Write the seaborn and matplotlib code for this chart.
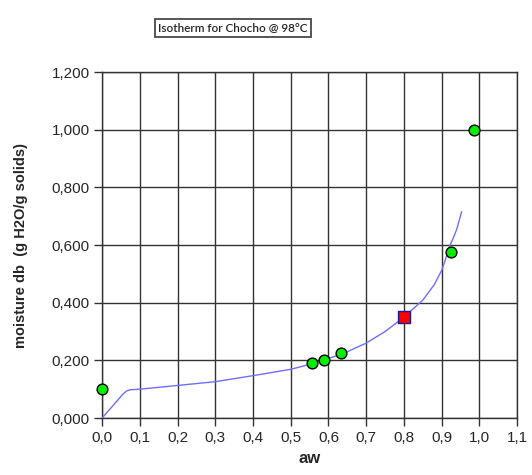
import matplotlib
matplotlib.use("Agg")
import matplotlib.pyplot as plt
import seaborn as sns
import pandas as pd
from matplotlib.ticker import FuncFormatter, MultipleLocator

sns.set_style("white")
plt.rcParams['font.family'] = ['Liberation Sans', 'DejaVu Sans']

# Experimental points
exp_aw = [0.0, 0.555, 0.588, 0.632, 0.925, 0.985]
exp_m = [0.100, 0.190, 0.202, 0.224, 0.575, 1.000]
# Highlighted point
hl_aw = [0.80]
hl_m = [0.350]
# Model curve
curve_aw = [0.0, 0.02, 0.04, 0.055, 0.065, 0.075, 0.1, 0.2, 0.3, 0.4, 0.5, 0.55, 0.6, 0.65,
            0.7, 0.75, 0.8, 0.85, 0.88, 0.9, 0.91, 0.922, 0.93, 0.94, 0.953]
curve_m = [0.0, 0.030, 0.060, 0.083, 0.094, 0.098, 0.100, 0.113, 0.126, 0.147, 0.169, 0.186,
           0.206, 0.230, 0.260, 0.300, 0.350, 0.409, 0.462, 0.512, 0.550, 0.600, 0.622,
           0.655, 0.716]

df_exp = pd.DataFrame({"aw": exp_aw, "m": exp_m})
df_hl = pd.DataFrame({"aw": hl_aw, "m": hl_m})
df_curve = pd.DataFrame({"aw": curve_aw, "m": curve_m})

fig = plt.figure(figsize=(5.32, 4.75), dpi=100)
ax = fig.add_axes([0.192, 0.12, 0.780, 0.728])

sns.lineplot(data=df_curve, x="aw", y="m", ax=ax, color="#6f6fff", linewidth=1.0, sort=False, zorder=3)
sns.scatterplot(data=df_exp, x="aw", y="m", ax=ax, color="#00ee00", edgecolor="black",
                linewidth=1.0, s=60, zorder=5, clip_on=False)
sns.scatterplot(data=df_hl, x="aw", y="m", ax=ax, color="#ff0000", edgecolor="#1a1a8c",
                linewidth=1.0, s=70, marker="s", zorder=5)

ax.set_xlim(0, 1.1)
ax.set_ylim(0, 1.2)
ax.xaxis.set_major_locator(MultipleLocator(0.1))
ax.yaxis.set_major_locator(MultipleLocator(0.2))
ax.xaxis.set_major_formatter(FuncFormatter(lambda v, p: f"{v:.1f}".replace(".", ",")))
ax.yaxis.set_major_formatter(FuncFormatter(lambda v, p: f"{v:.3f}".replace(".", ",")))
ax.grid(True, color="#333333", linewidth=1.0)
ax.set_axisbelow(True)
for s in ax.spines.values():
    s.set_color("#333333")
    s.set_linewidth(1.0)
ax.tick_params(axis="both", direction="out", length=6, width=1, color="#333333",
               labelsize=11, pad=3, bottom=True, left=True)
ax.set_xlabel("aw", fontsize=12, fontweight="bold", labelpad=5)
ax.set_ylabel("moisture db  (g H2O/g solids)", fontsize=10.5, fontweight="bold", labelpad=17)

fig.text(0.438, 0.942, "Isotherm for Chocho @ 98°C", ha="center", va="center", fontsize=8.5,
         family=["Lato", "DejaVu Sans"], fontweight="semibold",
         bbox=dict(boxstyle="square,pad=0.3", facecolor="white", edgecolor="#555555", linewidth=1.4))

fig.savefig("out.png", dpi=100)
